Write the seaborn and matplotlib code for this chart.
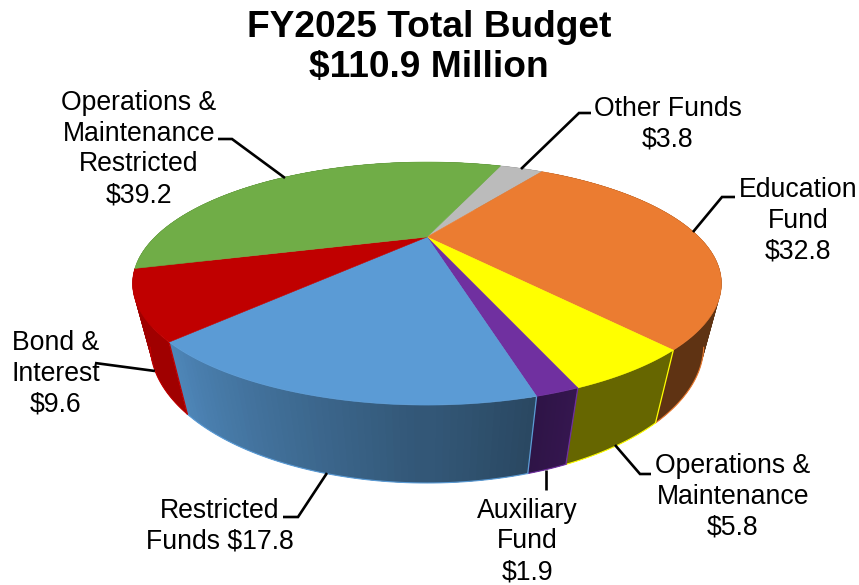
import numpy as np
import matplotlib
matplotlib.use("Agg")
import matplotlib.pyplot as plt
import seaborn as sns

# Budget by fund, millions of dollars, in clockwise drawing order
funds = ["Other Funds", "Education Fund", "Operations & Maintenance", "Auxiliary Fund",
         "Restricted Funds", "Bond & Interest", "Operations & Maintenance Restricted"]
amounts = [3.8, 32.8, 5.8, 1.9, 17.8, 9.6, 39.2]

top_colors = ["#BBBBBB", "#EB7C31", "#FFFF00", "#7030A0", "#5B9BD5", "#C00000", "#70AD47"]
wall_left = ["#6E6E6E", "#5F3313", "#666600", "#35164F", "#2A4862", "#A00000", "#42682A"]
wall_right = ["#6E6E6E", "#5F3313", "#666600", "#2E1446", "#4F88BB", "#A00000", "#42682A"]

label_texts = ["Other Funds\n$3.8", "Education\nFund\n$32.8", "Operations &\nMaintenance\n$5.8",
               "Auxiliary\nFund\n$1.9", "Restricted\nFunds $17.8", "Bond &\nInterest\n$9.6",
               "Operations &\nMaintenance\nRestricted\n$39.2"]
label_anchor = [(668, 124), (798, 221), (733, 497), (527.5, 541.5), (220, 526), (56, 374), (139, 149)]
leaders = [
    [(521, 169), (579, 113), (591, 113)],
    [(693, 232), (722, 197), (735, 197)],
    [(615, 445), (640, 474), (651, 474)],
    [(546, 470), (546, 490)],
    [(327, 473), (298, 517), (283, 517)],
    [(155, 371), (95, 363)],
    [(285, 178), (232, 139), (218, 139)],
]

sns.set_theme(style="white")
plt.rcParams["font.family"] = ["Liberation Sans", "DejaVu Sans"]

# Perspective model of the disc: apex position, scales and foreshortening terms
APEX_X, APEX_Y = 427.0, 237.0
SCALE_X, SCALE_Y = 272.0, 103.7
TILT, DEPTH_W, DEPTH_Y = 0.383, 0.055, 61.6
START_DEG = 21.5
VISIBLE_RIM = (112.0, 248.0)


def project(theta_deg, depth=0.0):
    """Screen position of a rim point; theta runs clockwise from the far side."""
    t = np.radians(theta_deg)
    x, y = np.sin(t), np.cos(t)
    w = 1 + TILT * y + DEPTH_W * depth
    return APEX_X + SCALE_X * x / w, APEX_Y - (SCALE_Y * y - DEPTH_Y * depth) / w


fig = plt.figure(figsize=(8.59, 5.85), dpi=100)
ax = fig.add_axes([0, 0, 1, 1])
ax.set_xlim(0, 859)
ax.set_ylim(585, 0)
ax.axis("off")

edges = START_DEG + 360 * np.concatenate([[0], np.cumsum(amounts)]) / np.sum(amounts)

# Outer wall as overlapping strips painted far side first
strips = []
for i in range(len(amounts)):
    steps = np.linspace(edges[i], edges[i + 1], 61)
    shades = sns.blend_palette([wall_left[i], wall_right[i]], 60)
    for j in range(60):
        strips.append((steps[j], steps[min(j + 3, 60)], shades[j]))
strips.sort(key=lambda s: -np.cos(np.radians(0.5 * (s[0] + s[1]))))
for a0, a1, shade in strips:
    strip = np.linspace(a0, a1, 6)
    xt, yt = project(strip)
    xb, yb = project(strip, 1)
    ax.fill(np.r_[xt, xb[::-1]], np.r_[yt, yb[::-1]], color=shade, lw=0, zorder=2)

# Lighter lower rim and seams, only where the wall faces the viewer
for i in range(len(amounts)):
    a0, a1 = max(edges[i], VISIBLE_RIM[0]), min(edges[i + 1], VISIBLE_RIM[1])
    if a1 > a0:
        xs, ys = project(np.linspace(a0, a1, 60), 1)
        ax.plot(xs, ys, color=top_colors[i], lw=0.8, zorder=3, solid_capstyle="round")
    if VISIBLE_RIM[0] < edges[i] < VISIBLE_RIM[1]:
        xa, ya = project(edges[i])
        xd, yd = project(edges[i], 1)
        ax.plot([xa, xd], [ya, yd], color=top_colors[i], lw=0.9, zorder=3)

# Top face of the disc
for i in range(len(amounts)):
    steps = np.linspace(edges[i], edges[i + 1], 120)
    xs, ys = project(steps)
    ax.fill(np.r_[APEX_X, xs], np.r_[APEX_Y, ys], color=top_colors[i], lw=0.4, zorder=4)

for pts in leaders:
    ax.plot(*zip(*pts), color="black", lw=1.9, zorder=5, solid_capstyle="butt", solid_joinstyle="miter")

for text, (lx, ly) in zip(label_texts, label_anchor):
    ax.text(lx, ly, text, ha="center", va="center", fontsize=19.2, color="black",
            linespacing=1.235, zorder=6)

ax.text(429, 47.5, "FY2025 Total Budget\n$110.9 Million", ha="center", va="center",
        fontsize=26.7, fontweight="bold", color="black", linespacing=1.21, zorder=6)

fig.savefig("out.png", dpi=100)
